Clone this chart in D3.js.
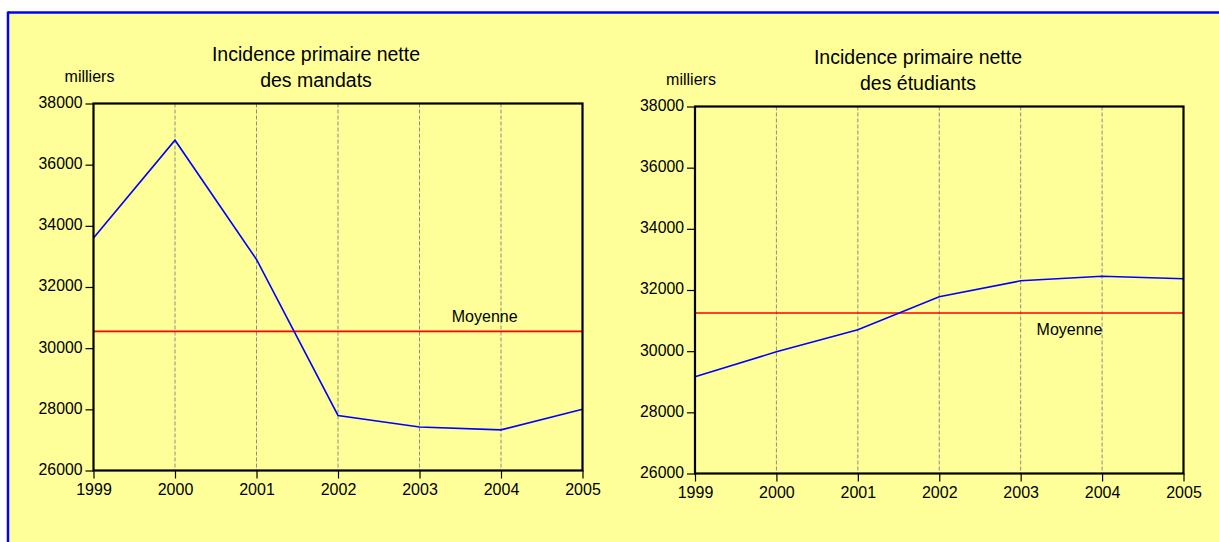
<!DOCTYPE html>
<html>
<head>
<meta charset="utf-8">
<script src="https://cdn.jsdelivr.net/npm/d3@7"></script>
<style>
  html, body { margin: 0; padding: 0; background: #ffffff; }
  svg { display: block; }
  text { font-family: "Liberation Sans", Arial, sans-serif; fill: #000; }
</style>
</head>
<body>
<svg id="chart" width="1219" height="542"></svg>
<script>
// ---- data ----
const years = [1999, 2000, 2001, 2002, 2003, 2004, 2005];
const mandats = [33600, 36800, 32900, 27800, 27420, 27330, 28000];
const etudiants = [29160, 29980, 30700, 31780, 32300, 32450, 32370];
const yTicks = [26000, 28000, 30000, 32000, 34000, 36000, 38000];
const titleMandats = ["Incidence primaire nette", "des mandats"];
const titleEtudiants = ["Incidence primaire nette", "des étudiants"];
const unitLabel = "milliers";
const meanLabel = "Moyenne";

// ---- drawing ----
const svg = d3.select("#chart");

// background panel with blue top/left border
svg.append("rect").attr("x", 8).attr("y", 12.5).attr("width", 1300).attr("height", 600)
  .attr("fill", "#FFFF99");
svg.append("line").attr("x1", 8).attr("x2", 1219).attr("y1", 12.5).attr("y2", 12.5)
  .attr("stroke", "#0000FF").attr("stroke-width", 2.5);
svg.append("line").attr("x1", 8).attr("x2", 8).attr("y1", 11.5).attr("y2", 542)
  .attr("stroke", "#0000FF").attr("stroke-width", 2.5);

function panel(cfg) {
  const g = svg.append("g");
  const x = d3.scaleLinear().domain([years[0], years[years.length - 1]]).range([cfg.x0, cfg.x1]);
  const y = d3.scaleLinear().domain([yTicks[0], yTicks[yTicks.length - 1]]).range([cfg.yBot, cfg.yTop]);

  // vertical dashed grid
  g.selectAll("line.grid").data(years.slice(1, -1)).enter().append("line")
    .attr("class", "grid")
    .attr("x1", d => x(d)).attr("x2", d => x(d))
    .attr("y1", cfg.yTop).attr("y2", cfg.yBot)
    .attr("stroke", "#8c8c8c").attr("stroke-width", 1)
    .attr("stroke-dasharray", "4,2");

  // mean line
  const m = d3.mean(cfg.values);
  g.append("line")
    .attr("x1", cfg.x0).attr("x2", cfg.x1)
    .attr("y1", y(m)).attr("y2", y(m))
    .attr("stroke", "#FF0000").attr("stroke-width", 1.6);

  // data line
  const line = d3.line().x((d, i) => x(years[i])).y(d => y(d));
  g.append("path").datum(cfg.values)
    .attr("d", line).attr("fill", "none")
    .attr("stroke", "#0000FF").attr("stroke-width", 1.6);

  // frame
  g.append("rect")
    .attr("x", cfg.x0).attr("y", cfg.yTop)
    .attr("width", cfg.x1 - cfg.x0).attr("height", cfg.yBot - cfg.yTop)
    .attr("fill", "none").attr("stroke", "#000").attr("stroke-width", 2.2);

  // axes
  const yAxis = d3.axisLeft(y).tickValues(yTicks).tickFormat(d3.format("d"))
    .tickSize(8).tickPadding(3).tickSizeOuter(0);
  const ya = g.append("g").attr("transform", `translate(${cfg.x0},0)`).call(yAxis);
  ya.select(".domain").remove();
  ya.selectAll(".tick line").attr("stroke", "#000").attr("stroke-width", 1.2);
  ya.selectAll(".tick text").attr("font-size", "15.8px").attr("font-family", "Liberation Sans, Arial, sans-serif")
    .attr("dy", "0.25em").attr("fill", "#000");

  const xAxis = d3.axisBottom(x).tickValues(years).tickFormat(d3.format("d"))
    .tickSize(8).tickPadding(5).tickSizeOuter(0);
  const xa = g.append("g").attr("transform", `translate(0,${cfg.yBot})`).call(xAxis);
  xa.select(".domain").remove();
  xa.selectAll(".tick line").attr("stroke", "#000").attr("stroke-width", 1.2);
  xa.selectAll(".tick text").attr("font-size", "16px").attr("font-family", "Liberation Sans, Arial, sans-serif")
    .attr("fill", "#000");

  // title
  cfg.title.forEach((t, i) => {
    g.append("text").attr("x", cfg.titleX).attr("y", cfg.titleY + i * 26)
      .attr("text-anchor", "middle").attr("font-size", "19.5px")
      .text(t);
  });

  // unit
  g.append("text").attr("x", cfg.x0 - 4).attr("y", cfg.unitY)
    .attr("text-anchor", "middle").attr("font-size", "16px").text(unitLabel);

  // mean label
  g.append("text").attr("x", x(cfg.meanLabelYear)).attr("y", y(m) + cfg.meanLabelDy)
    .attr("text-anchor", "middle").attr("font-size", "16px").text(meanLabel);
}

panel({
  values: mandats, title: titleMandats,
  x0: 93.5, x1: 582.5, yTop: 103.5, yBot: 470.5,
  titleX: 316, titleY: 61, unitY: 82,
  meanLabelYear: 2003.8, meanLabelDy: -9
});

panel({
  values: etudiants, title: titleEtudiants,
  x0: 695, x1: 1183.5, yTop: 106.5, yBot: 473.5,
  titleX: 918, titleY: 64, unitY: 85,
  meanLabelYear: 2003.6, meanLabelDy: 22
});
</script>
</body>
</html>
